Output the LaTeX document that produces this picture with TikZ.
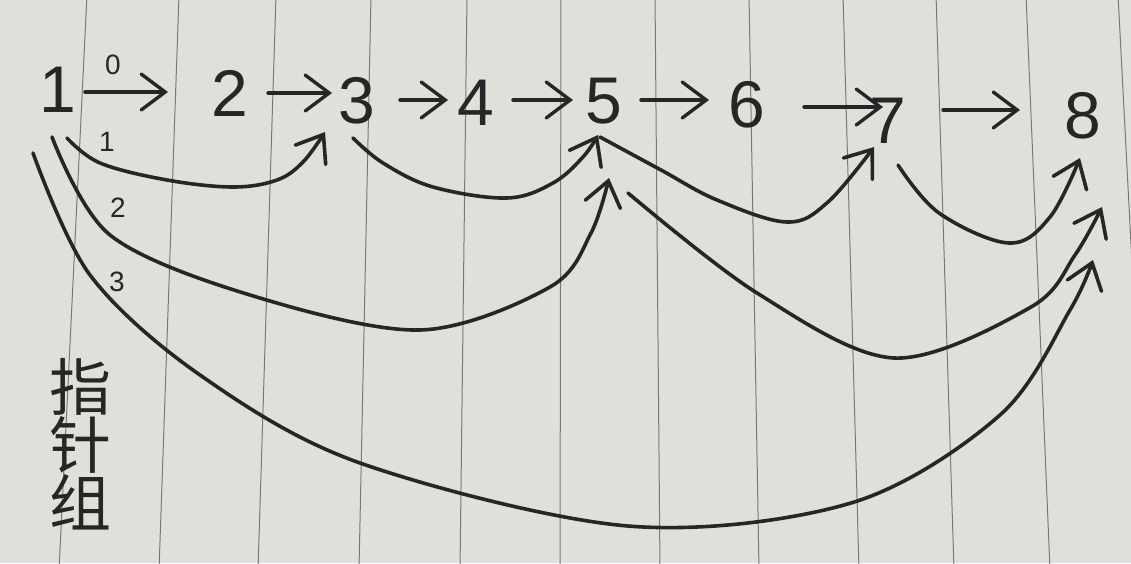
\documentclass[tikz,border=0pt]{standalone}
\usepackage{fontspec}
\setmainfont{Liberation Sans}
\newfontfamily\cjk{Noto Sans CJK SC}
\usetikzlibrary{arrows.meta}
\definecolor{paper}{RGB}{224,224,219}
\definecolor{rule}{RGB}{120,120,118}
\definecolor{ink}{RGB}{38,38,38}
\tikzset{
  digit/.style={inner sep=0pt, text=ink, font=\fontsize{66}{66}\selectfont},
  lvl/.style={inner sep=0pt, text=ink, font=\fontsize{28}{28}\selectfont},
  hz/.style={ink, line width=3.4pt, line cap=round, line join=round,
    -{Straight Barb[length=24pt,width=36pt,line cap=round]}},
  link/.style={ink, line width=3.6pt, line cap=round, line join=round,
    -{Straight Barb[length=24pt,width=36pt,line cap=round]}},
  ruleline/.style={rule, line width=1pt}
}
\begin{document}
\begin{tikzpicture}[x=1pt,y=-1pt]
\useasboundingbox (0,0) rectangle (1131,563);
\clip (0,0) rectangle (1131,563);
\fill[paper] (0,0) rectangle (1131,563);
% ruled lines of the paper
\foreach \t/\b in {87/59,179/159,276/258,371/359,467/460,561/560,655/660,749/759,843/859,936/954,1026/1050,1118/1148}
  \draw[ruleline] (\t,-5) -- (\b,570);

% nodes
\node[digit] (n1) at (58,90) {1};
\node[digit] (n2) at (230,93) {2};
\node[digit] (n3) at (357,101) {3};
\node[digit] (n4) at (476,103) {4};
\node[digit] (n5) at (604,101) {5};
\node[digit] (n6) at (747,105) {6};
\node[digit] (n7) at (888,121) {7};
\node[digit] (n8) at (1083,116) {8};

% level labels
\node[lvl] (l0) at (113,65) {0};
\node[lvl] (l1) at (107,142) {1};
\node[lvl] (l2) at (118,208) {2};
\node[lvl] (l3) at (117,282) {3};

% side text
\node[inner sep=0pt, text=ink, font=\cjk\fontsize{62}{62}\selectfont, align=center] (lab) at (80,444) {指\\[-4pt]针\\[-4pt]组};

% level 0 arrows
\draw[hz] (85,92) -- (168,92);
\draw[hz] (268,93) -- (332,93);
\draw[hz] (400,100) -- (448,100);
\draw[hz] (513,100) -- (573,100);
\draw[hz] (641,100) -- (709,100);
\draw[hz] (804,107) -- (883,107);
\draw[hz] (943,110) -- (1020,110);

% curve end points
\coordinate (s13) at (67,138);  \coordinate (e13) at (325,132);
\coordinate (s35) at (353,138); \coordinate (e35) at (598,135);
\coordinate (s57) at (600,137); \coordinate (e57) at (874,147);
\coordinate (s78) at (898,165); \coordinate (e78) at (1080,158);
\coordinate (s15) at (52,137);  \coordinate (e15) at (609,178);
\coordinate (s58) at (628,193); \coordinate (e58) at (1102,207);
\coordinate (s18) at (33,153);  \coordinate (e18) at (1093,260);

% level 1
\draw[link] plot[smooth, tension=0.6] coordinates {(s13) (100,163) (167,180) (233,187) (277,180) (303,162) (e13)};
\draw[link] plot[smooth, tension=0.6] coordinates {(s35) (383,163) (433,187) (507,198) (553,183) (583,157) (e35)};
\draw[link] plot[smooth, tension=0.6] coordinates {(s57) (661,170) (717,200) (787,222) (828,202) (e57)};
\draw[link] plot[smooth, tension=0.6] coordinates {(s78) (939,213) (1009,243) (1050,217) (e78)};
% level 2
\draw[link] plot[smooth, tension=0.55] coordinates {(s15) (110,235) (250,295) (420,330) (550,287) (591,233) (e15)};
\draw[link] plot[smooth, tension=0.55] coordinates {(s58) (757,293) (894,358) (1031,307) (1075,255) (e58)};
% level 3
\draw[link] plot[smooth, tension=0.55] coordinates {(s18) (90,275) (200,375) (360,463) (628,526) (851,503) (1000,415) (1070,310) (e18)};
\end{tikzpicture}
\end{document}
